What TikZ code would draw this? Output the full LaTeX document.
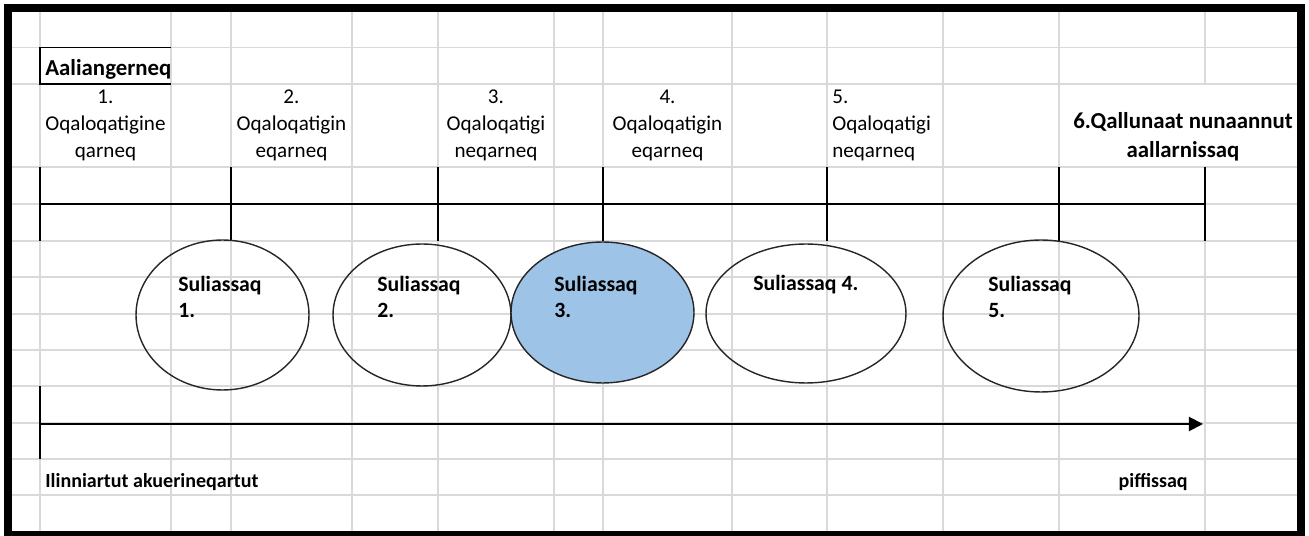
\documentclass[tikz,border=0pt]{standalone}
\usepackage{fontspec}
\setmainfont{Carlito}
\usetikzlibrary{shapes.geometric, arrows.meta}
\definecolor{cellgrid}{RGB}{217,217,217}
\definecolor{activeblue}{RGB}{157,195,230}
\tikzstyle{gridline} = [draw=cellgrid, line width=1.1pt]
\tikzstyle{phase} = [font=\fontsize{12}{15.6}\selectfont, align=center, anchor=base, inner sep=0pt]
\tikzstyle{bold} = [font=\bfseries\fontsize{12.4}{15.3}\selectfont, align=left, anchor=base west, inner sep=0pt]
\tikzstyle{stepring} = [ellipse, draw=black!85, line width=0.8pt, inner sep=0pt, outer sep=0pt]
\tikzstyle{tick} = [line width=1pt]
\tikzstyle{arrow} = [line width=1.1pt, -{Triangle[length=8pt, width=8pt]}]

\begin{document}
\begin{tikzpicture}[x=0.02cm, y=-0.02cm]

    \useasboundingbox (0,0) rectangle (1309,536);
    \clip (0,0) rectangle (1309,536);

    % sheet grid
    \foreach \y in {47.5,84,167,204,241,277,314,350,386,423,459,495}
        \draw[gridline] (12,\y) -- (1297,\y);
    \foreach \x in {40,171,231,352,438,554,603,732,827,943,1059}
        \draw[gridline] (\x,12) -- (\x,531);
    \draw[gridline] (1205,12) -- (1205,84);
    \draw[gridline] (1205,167) -- (1205,531);

    % frame
    \draw[line width=0.16cm] (8,8.5) rectangle (1301,535);

    % title cell
    \draw[line width=0.7pt] (171,47.5) -- (40,47.5) -- (40,84) -- (171,84);
    \node (title) [bold, font=\bfseries\fontsize{13}{16}\selectfont] at (45,76) {Aaliangerneq};

    % phases (base = last line)
    \node (ph1) [phase] at (105.5,158) {1.\\Oqaloqatigine\\qarneq};
    \node (ph2) [phase] at (291.5,158) {2.\\Oqaloqatigin\\eqarneq};
    \node (ph3) [phase] at (496,158) {3.\\Oqaloqatigi\\neqarneq};
    \node (ph4) [phase] at (667.5,158) {4.\\Oqaloqatigin\\eqarneq};
    \node (ph5) [phase, align=left, anchor=base west] at (832,158) {5.\\Oqaloqatigi\\neqarneq};
    \node (ph6) [phase, font=\bfseries\fontsize{13}{17}\selectfont] at (1183,158) {6.Qallunaat nunaannut\\aallarnissaq};

    % timeline
    \foreach \x [count=\i] in {40,231,438,603,827,1059,1205} {
        \coordinate (up\i) at (\x,167);
        \coordinate (dn\i) at (\x,241);
        \draw[tick] (up\i) -- (dn\i);
    }
    \coordinate (left) at (40,204);
    \coordinate (right) at (1205,204);
    \draw[tick] (left) -- (right);

    % steps
    \node (e1) [stepring, minimum width=3.46cm, minimum height=3.0cm] at (222.5,315) {};
    \node (e2) [stepring, minimum width=3.56cm, minimum height=2.84cm] at (422,315) {};
    \node (e3) [stepring, fill=activeblue, minimum width=3.66cm, minimum height=2.82cm] at (602.5,312.5) {};
    \node (e4) [stepring, minimum width=4.0cm, minimum height=2.78cm] at (806,313.5) {};
    \node (e5) [stepring, minimum width=3.92cm, minimum height=3.04cm] at (1041,316) {};

    \node (s1) [bold] at (178,318) {Suliassaq\\1.};
    \node (s2) [bold] at (377,318) {Suliassaq\\2.};
    \node (s3) [bold] at (554,318) {Suliassaq\\3.};
    \node (s4) [bold] at (753,291) {Suliassaq 4.};
    \node (s5) [bold] at (988,318) {Suliassaq\\5.};

    % time axis
    \coordinate (low) at (40,386);
    \coordinate (high) at (40,459);
    \coordinate (start) at (40,424);
    \coordinate (end) at (1203,424);
    \draw[tick] (low) -- (high);
    \draw[arrow] (start) -- (end);

    \node (teachers) [bold, font=\bfseries\fontsize{11.4}{14}\selectfont] at (45,488) {Ilinniartut akuerineqartut};
    \node (time) [bold, anchor=base east, font=\bfseries\fontsize{11.4}{14}\selectfont] at (1188,488) {piffissaq};

\end{tikzpicture}
\end{document}
